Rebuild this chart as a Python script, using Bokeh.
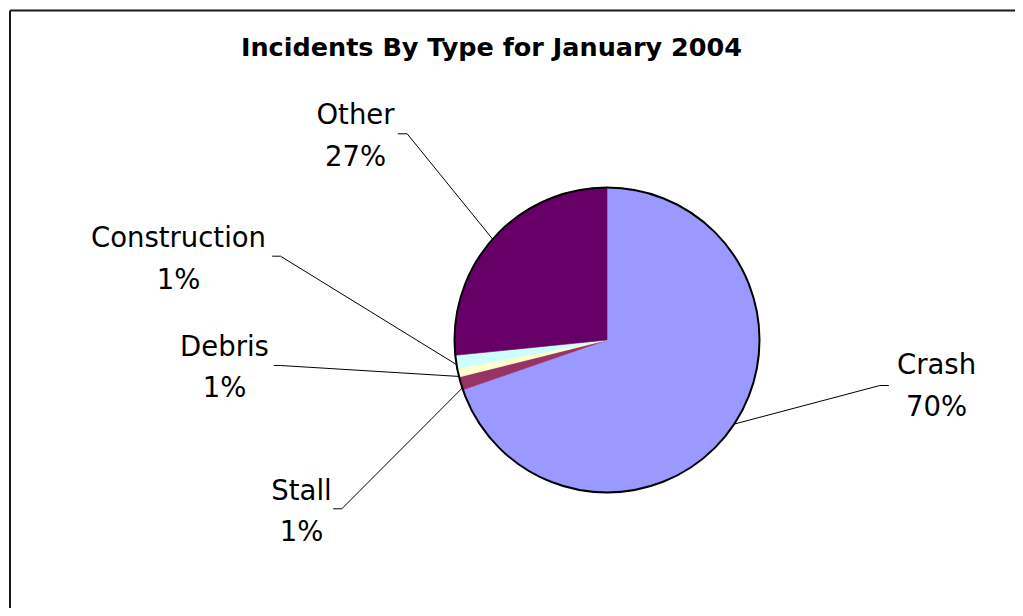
import math
from bokeh.plotting import figure
from bokeh.models import Range1d, ColumnDataSource
from bokeh.core.properties import value
from bokeh.embed import file_html
from bokeh.resources import INLINE

# ---- data ----
title_text = "Incidents By Type for January 2004"
categories = ["Crash", "Stall", "Debris", "Construction", "Other"]
shares = [69.7, 1.4, 0.9, 1.4, 26.6]          # percent of incidents
colors = ["#9999FF", "#993366", "#FFFFCC", "#CCFFFF", "#660066"]

# ---- layout (page pixel coordinates) ----
W, H = 1015, 608
def Y(py):
    return H - py   # page y -> data y

CX, CY, R = 606.5, 339.5, 152.5
TEXT_DY = -10.0
label_pos = [(936, 373.5), (301, 499.0), (224, 355.0), (178, 246.7), (355, 123.5)]
line_gap = 41.7
stub_start = [(888.3, 385.0), (332.7, 508.3), (273.3, 365.0), (271.7, 255.7), (397.3, 133.3)]
stub_end_x = [879.3, 341.3, 280.0, 280.0, 406.7]
leader_shift = [2.0, 1.8, 1.4, 1.0, 0.7]   # degrees

# ---- angles (clockwise from 12 o'clock) ----
total = sum(shares)
starts, ends, mids = [], [], []
cum = 0.0
for s in shares:
    a0 = 90 - cum / total * 360.0
    cum += s
    a1 = 90 - cum / total * 360.0
    starts.append(math.radians(a1))
    ends.append(math.radians(a0))
    mids.append((a0 + a1) / 2.0)

p = figure(width=W, height=H, x_range=Range1d(0, W), y_range=Range1d(0, H),
           toolbar_location=None, output_backend="svg", min_border=0,
           x_axis_location=None, y_axis_location=None, outline_line_color=None,
           background_fill_color="white", border_fill_color="white")
p.grid.visible = False

# frame (top and left edges of the chart area)
p.line(x=[9.5, W], y=[Y(10), Y(10)], line_color="#1a1a1a", line_width=2)
p.line(x=[9.5, 9.5], y=[Y(10), 0], line_color="#1a1a1a", line_width=2)

src = ColumnDataSource(dict(start=starts, end=ends, color=colors, cat=categories))
p.wedge(x=CX, y=Y(CY), radius=R, start_angle="start", end_angle="end",
        fill_color="color", line_color="color", line_width=0.6, source=src)
p.circle(x=[CX], y=[Y(CY)], radius=R, fill_color=None, line_color="black", line_width=2)

# leader lines
xs, ys = [], []
for i in range(len(categories)):
    ang = math.radians(mids[i] + leader_shift[i])
    ax = CX + R * math.cos(ang)
    ay = CY - R * math.sin(ang)
    sx, sy = stub_start[i]
    xs.append([sx, stub_end_x[i], ax])
    ys.append([Y(sy), Y(sy), Y(ay)])
p.multi_line(xs=xs, ys=ys, line_color="black", line_width=1)

# labels
pct = [f"{round(s / total * 100)}%" for s in shares]
p.text(x=[lp[0] for lp in label_pos], y=[Y(lp[1] + TEXT_DY) for lp in label_pos], text=categories,
       text_align="center", text_baseline="alphabetic", text_color="black",
       text_font=value("DejaVu Sans"), text_font_size="27.5px")
p.text(x=[lp[0] for lp in label_pos], y=[Y(lp[1] + line_gap + TEXT_DY) for lp in label_pos], text=pct,
       text_align="center", text_baseline="alphabetic", text_color="black",
       text_font=value("DejaVu Sans"), text_font_size="27.5px")

# title
p.text(x=[491], y=[Y(56 + TEXT_DY)], text=[title_text], text_align="center", text_baseline="alphabetic",
       text_color="black", text_font=value("DejaVu Sans"), text_font_style="bold",
       text_font_size="25.5px")

open("out.html", "w").write(file_html(p, INLINE))
